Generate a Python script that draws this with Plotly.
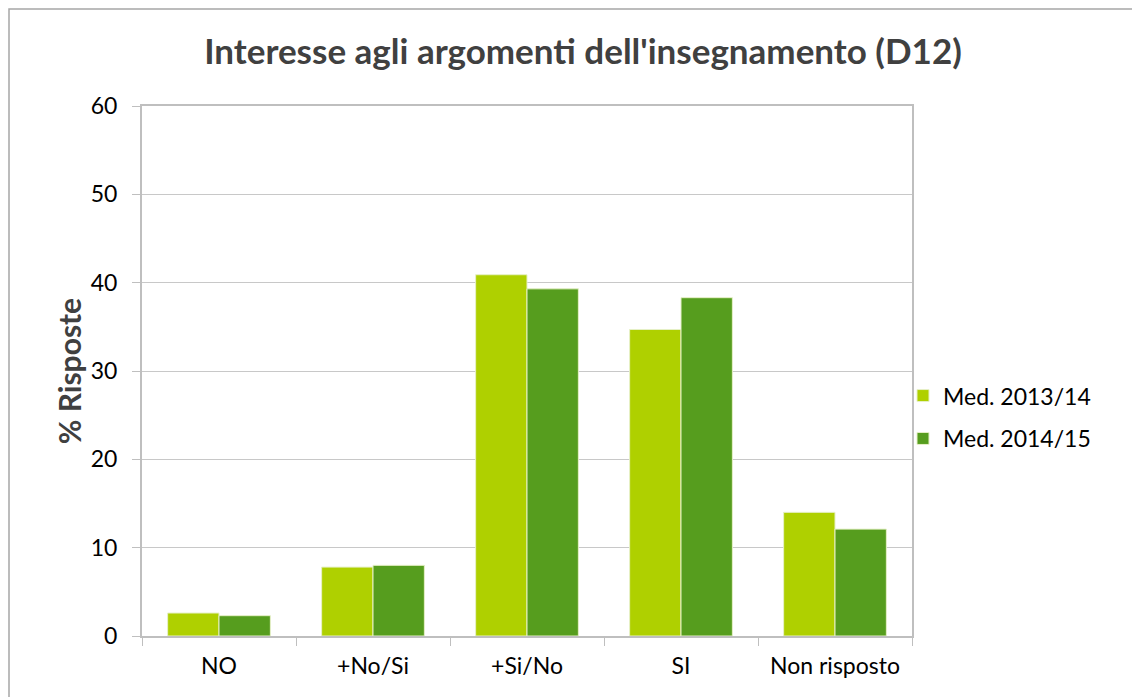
import plotly.graph_objects as go

categories = ["NO", "+No/Si", "+Si/No", "SI", "Non risposto"]
series_names = ["Med. 2013/14", "Med. 2014/15"]
values_2013_14 = [2.6, 7.8, 40.9, 34.7, 14.0]
values_2014_15 = [2.3, 8.0, 39.3, 38.3, 12.1]
colors = ["#AFD000", "#569D1E"]
y_ticks = [0, 10, 20, 30, 40, 50, 60]

FONT = "Lato"
# page body has an 8px margin; figure is sized to fit the 1140x697 window
W, H = 1132, 689
L, T, PW, PH = 134, 98, 770, 530

fig = go.Figure()
for name, vals, col in zip(series_names, [values_2013_14, values_2014_15], colors):
    fig.add_trace(go.Bar(x=categories, y=vals, name=name, legendgroup=name,
                         marker_color=col,
                         marker_line=dict(color="#E6F0C8", width=1)))

fig.update_layout(
    width=W, height=H,
    margin=dict(l=L, r=W - L - PW, t=T, b=H - T - PH, autoexpand=False),
    paper_bgcolor="white", plot_bgcolor="white",
    barmode="group", bargap=0.333, bargroupgap=0,
    font=dict(family=FONT, size=23, color="#000000"),
    title=dict(text="<b>Interesse agli argomenti dell'insegnamento (D12)</b>",
               x=(583 - 8) / W, xanchor="center", y=1 - 44 / H, yanchor="middle",
               font=dict(family=FONT, size=35, color="#404040")),
    legend=dict(x=1 - 9 / PW, xanchor="left", y=0.413, yanchor="middle",
                bgcolor="rgba(0,0,0,0)",
                font=dict(family=FONT, size=23, color="#000000"),
                tracegroupgap=10, itemwidth=30),
    showlegend=True,
)
fig.update_xaxes(showline=True, linecolor="#BFBFBF", linewidth=2, mirror=True,
                 ticks="outside", ticklen=8, tickcolor="#BFBFBF", tickson="boundaries",
                 ticklabelstandoff=8,
                 tickfont=dict(family=FONT, size=23), showgrid=False)
fig.update_yaxes(range=[0, 60], tickvals=y_ticks, showline=True, linecolor="#BFBFBF",
                 linewidth=2, mirror=True, ticks="outside", ticklen=8, tickcolor="#BFBFBF",
                 ticklabelstandoff=10,
                 showgrid=True, gridcolor="#C8C8C8", gridwidth=1, zeroline=False,
                 tickfont=dict(family=FONT, size=23),
                 title=dict(text="<b>% Risposte</b>", font=dict(family=FONT, size=30, color="#404040"),
                            standoff=0))
# outer chart border
fig.add_shape(type="rect", xref="paper", yref="paper",
              x0=(1 - L) / PW, x1=(W + 40 - L) / PW,
              y0=(T + PH - H - 40) / PH, y1=(T + PH - 1) / PH,
              line=dict(color="#A6A6A6", width=1.5), fillcolor="rgba(0,0,0,0)", layer="below")
fig.write_html("out.html")
